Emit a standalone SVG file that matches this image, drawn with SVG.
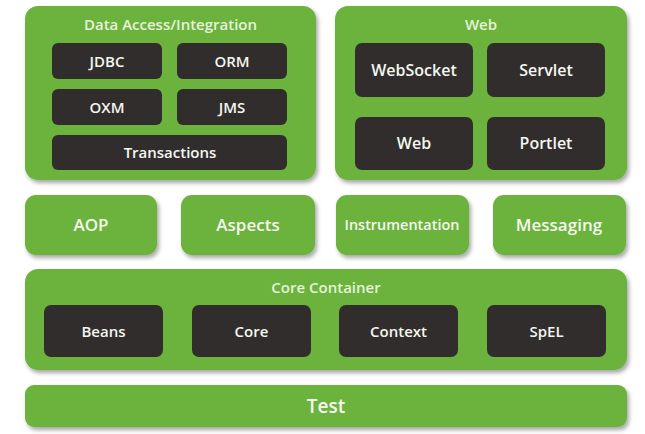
<svg xmlns="http://www.w3.org/2000/svg" width="645" height="434" viewBox="0 0 645 434">
<defs>
<filter id="sh" x="-10%" y="-10%" width="125%" height="130%">
<feDropShadow dx="2" dy="3" stdDeviation="2" flood-color="#000" flood-opacity="0.35"/>
</filter>
<style>
.g{fill:#6cb33e;filter:url(#sh)}
.d{fill:#312d2c}
.t{font-family:"Open Sans","Noto Sans","DejaVu Sans",sans-serif;font-weight:600;text-anchor:middle;fill:#f4f7f0}
.h{font-size:15px;fill:#e6f2da}
.s{font-size:15px}
.m{font-size:17px}
</style>
</defs>
<rect width="645" height="434" fill="#ffffff"/>
<g id="data-access">
<rect class="g" x="25" y="6" width="291" height="174" rx="13"/>
<text class="t h" x="170.5" y="29.5">Data Access/Integration</text>
<g id="jdbc"><rect class="d" x="52" y="43" width="110" height="36" rx="6"/><text class="t s" x="107" y="66.5">JDBC</text></g>
<g id="orm"><rect class="d" x="177" y="43" width="110" height="36" rx="6"/><text class="t s" x="232" y="66.5">ORM</text></g>
<g id="oxm"><rect class="d" x="52" y="89" width="110" height="36" rx="6"/><text class="t s" x="107" y="112.5">OXM</text></g>
<g id="jms"><rect class="d" x="177" y="89" width="110" height="36" rx="6"/><text class="t s" x="232" y="112.5">JMS</text></g>
<g id="transactions"><rect class="d" x="52" y="135" width="235" height="35" rx="6"/><text class="t s" x="170" y="158">Transactions</text></g>
</g>
<g id="web-group">
<rect class="g" x="335" y="6" width="292" height="174" rx="13"/>
<text class="t h" x="481" y="29.5">Web</text>
<g id="websocket"><rect class="d" x="355" y="43" width="118" height="54" rx="7"/><text class="t" style="font-size:16px" x="414" y="75.5">WebSocket</text></g>
<g id="servlet"><rect class="d" x="487" y="43" width="118" height="54" rx="7"/><text class="t" style="font-size:16px" x="546" y="75.5">Servlet</text></g>
<g id="web"><rect class="d" x="355" y="117" width="118" height="53" rx="7"/><text class="t" style="font-size:16px" x="414" y="148.5">Web</text></g>
<g id="portlet"><rect class="d" x="487" y="117" width="118" height="53" rx="7"/><text class="t" style="font-size:16px" x="546" y="148.5">Portlet</text></g>
</g>
<g id="aop"><rect class="g" x="25" y="195" width="132" height="60" rx="11"/><text class="t m" x="91" y="231">AOP</text></g>
<g id="aspects"><rect class="g" x="181" y="195" width="134" height="60" rx="11"/><text class="t m" x="248" y="231">Aspects</text></g>
<g id="instrumentation"><rect class="g" x="336" y="195" width="133" height="60" rx="11"/><text class="t" style="font-size:14.5px" x="402" y="230" textLength="115" lengthAdjust="spacingAndGlyphs">Instrumentation</text></g>
<g id="messaging"><rect class="g" x="493" y="195" width="133" height="60" rx="11"/><text class="t m" x="559" y="231">Messaging</text></g>
<g id="core-container">
<rect class="g" x="25" y="269" width="602" height="101" rx="13"/>
<text class="t h" x="326" y="292.5">Core Container</text>
<g id="beans"><rect class="d" x="44" y="305" width="119" height="52" rx="7"/><text class="t s" x="103.5" y="336.5">Beans</text></g>
<g id="core"><rect class="d" x="192" y="305" width="119" height="52" rx="7"/><text class="t s" x="251.5" y="336.5">Core</text></g>
<g id="context"><rect class="d" x="339" y="305" width="119" height="52" rx="7"/><text class="t s" x="398.5" y="336.5">Context</text></g>
<g id="spel"><rect class="d" x="487" y="305" width="119" height="52" rx="7"/><text class="t s" x="546.5" y="336.5">SpEL</text></g>
</g>
<g id="test"><rect class="g" x="25" y="385" width="602" height="42" rx="9"/><text class="t" style="font-size:19px" x="326" y="413">Test</text></g>
<g id="connectors"/>
</svg>
